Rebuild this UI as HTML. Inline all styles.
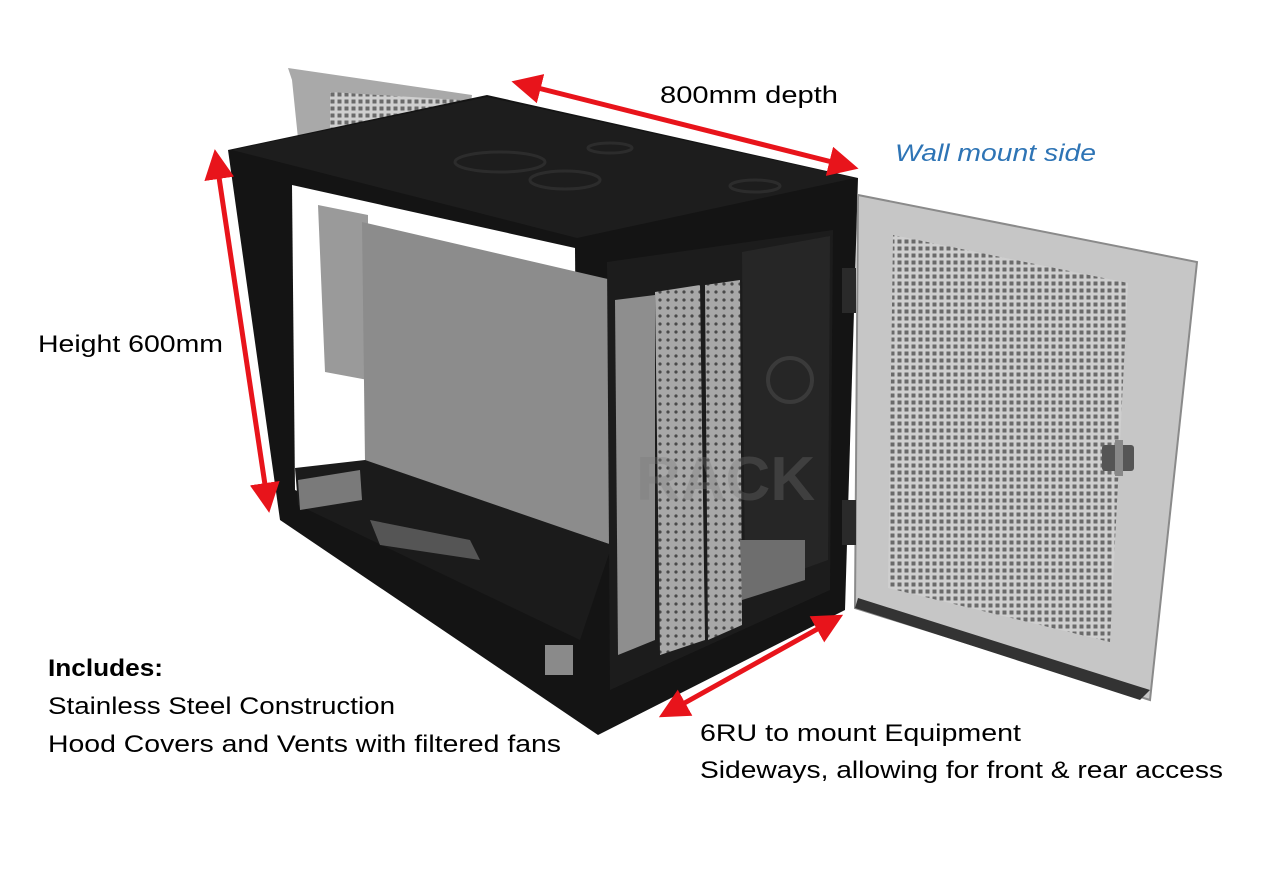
<!DOCTYPE html>
<html><head><meta charset="utf-8"><style>
html,body{margin:0;padding:0;background:#fff;}
svg{display:block;}
text{font-family:"Liberation Sans",sans-serif;}
</style></head><body>
<svg width="1287" height="890" viewBox="0 0 1287 890" xmlns="http://www.w3.org/2000/svg">
<defs>
<pattern id="dots" width="7" height="7" patternUnits="userSpaceOnUse">
<rect width="7" height="7" fill="#cfcfcf"/>
<rect x="1.5" y="1.5" width="4" height="4" fill="#6a6a6a"/>
</pattern>
<pattern id="dots2" width="8" height="8" patternUnits="userSpaceOnUse">
<rect width="8" height="8" fill="#a8a8a8"/>
<circle cx="4" cy="4" r="1.6" fill="#4a4a4a"/>
</pattern>
<marker id="ah" markerWidth="6" markerHeight="6" refX="3" refY="3" orient="auto-start-reverse" markerUnits="strokeWidth">
<path d="M0,0 L6,3 L0,6 z" fill="#e8141b"/>
</marker>
</defs>

<polygon points="288,68 472,95 470,110 372,372 322,372 292,80" fill="#a9a9a9"/>
<polygon points="330,92 460,100 370,360 330,355" fill="url(#dots)"/>

<polygon points="228,150 487,95 858,178 845,610 598,735 280,520" fill="#141414"/>
<polygon points="232,150 487,97 855,178 577,238" fill="#1d1d1d"/>
<ellipse cx="500" cy="162" rx="45" ry="10" fill="none" stroke="#2c2c2c" stroke-width="3"/>
<ellipse cx="565" cy="180" rx="35" ry="9" fill="none" stroke="#2c2c2c" stroke-width="3"/>
<ellipse cx="755" cy="186" rx="25" ry="6" fill="none" stroke="#2c2c2c" stroke-width="3"/>
<ellipse cx="610" cy="148" rx="22" ry="5" fill="none" stroke="#2c2c2c" stroke-width="3"/>

<polygon points="292,185 575,248 578,615 295,490" fill="#ffffff"/>
<polygon points="318,205 368,215 368,380 325,372" fill="#9a9a9a"/>
<polygon points="362,222 612,280 612,545 365,462" fill="#8c8c8c"/>
<polygon points="295,468 365,460 612,545 580,640 298,505" fill="#1b1b1b"/>
<polygon points="298,480 360,470 362,500 300,510" fill="#7a7a7a"/>
<polygon points="370,520 470,540 480,560 380,545" fill="#555"/>
<rect x="545" y="645" width="28" height="30" fill="#8a8a8a"/>

<polygon points="607,262 833,230 830,590 610,690" fill="#1c1c1c"/>
<polygon points="742,252 830,236 828,560 745,590" fill="#262626"/>
<circle cx="790" cy="380" r="22" fill="none" stroke="#3a3a3a" stroke-width="4"/>
<polygon points="615,300 655,295 655,640 618,655" fill="#8e8e8e"/>
<polygon points="655,292 700,285 705,640 660,655" fill="url(#dots2)"/>
<polygon points="705,285 740,280 742,625 708,640" fill="url(#dots2)"/>
<polygon points="740,540 805,540 805,580 742,600" fill="#6e6e6e"/>
<text x="636" y="500" font-size="62" font-weight="bold" fill="#7a7a7a" opacity="0.3">RACK</text>

<polygon points="858,195 1197,262 1150,700 855,608" fill="#c6c6c6" stroke="#8a8a8a" stroke-width="2"/>
<polygon points="893,235 1128,283 1110,642 888,588" fill="url(#dots)"/>
<polygon points="1150,690 1140,700 855,608 858,598" fill="#333"/>
<rect x="842" y="268" width="14" height="45" fill="#2a2a2a"/>
<rect x="842" y="500" width="14" height="45" fill="#2a2a2a"/>
<rect x="1102" y="445" width="32" height="26" rx="3" fill="#555"/>
<rect x="1115" y="440" width="8" height="36" fill="#888"/>

<line x1="526" y1="85" x2="844" y2="165" stroke="#e8141b" stroke-width="5" marker-start="url(#ah)" marker-end="url(#ah)"/>
<line x1="217" y1="164" x2="267" y2="498" stroke="#e8141b" stroke-width="5" marker-start="url(#ah)" marker-end="url(#ah)"/>
<line x1="672" y1="710" x2="830" y2="622" stroke="#e8141b" stroke-width="5" marker-start="url(#ah)" marker-end="url(#ah)"/>

<text x="660" y="103" font-size="24" textLength="178" lengthAdjust="spacingAndGlyphs" fill="#000">800mm depth</text>
<text x="895" y="161" font-size="24" font-style="italic" textLength="201" lengthAdjust="spacingAndGlyphs" fill="#2e74b5">Wall mount side</text>
<text x="38" y="352" font-size="24" textLength="185" lengthAdjust="spacingAndGlyphs" fill="#000">Height 600mm</text>
<text x="48" y="676" font-size="24" font-weight="bold" textLength="115" lengthAdjust="spacingAndGlyphs" fill="#000">Includes:</text>
<text x="48" y="714" font-size="24" textLength="347" lengthAdjust="spacingAndGlyphs" fill="#000">Stainless Steel Construction</text>
<text x="48" y="752" font-size="24" textLength="513" lengthAdjust="spacingAndGlyphs" fill="#000">Hood Covers and Vents with filtered fans</text>
<text x="700" y="741" font-size="24" textLength="321" lengthAdjust="spacingAndGlyphs" fill="#000">6RU to mount Equipment</text>
<text x="700" y="778" font-size="24" textLength="523" lengthAdjust="spacingAndGlyphs" fill="#000">Sideways, allowing for front &amp; rear access</text>
</svg>
</body></html>
